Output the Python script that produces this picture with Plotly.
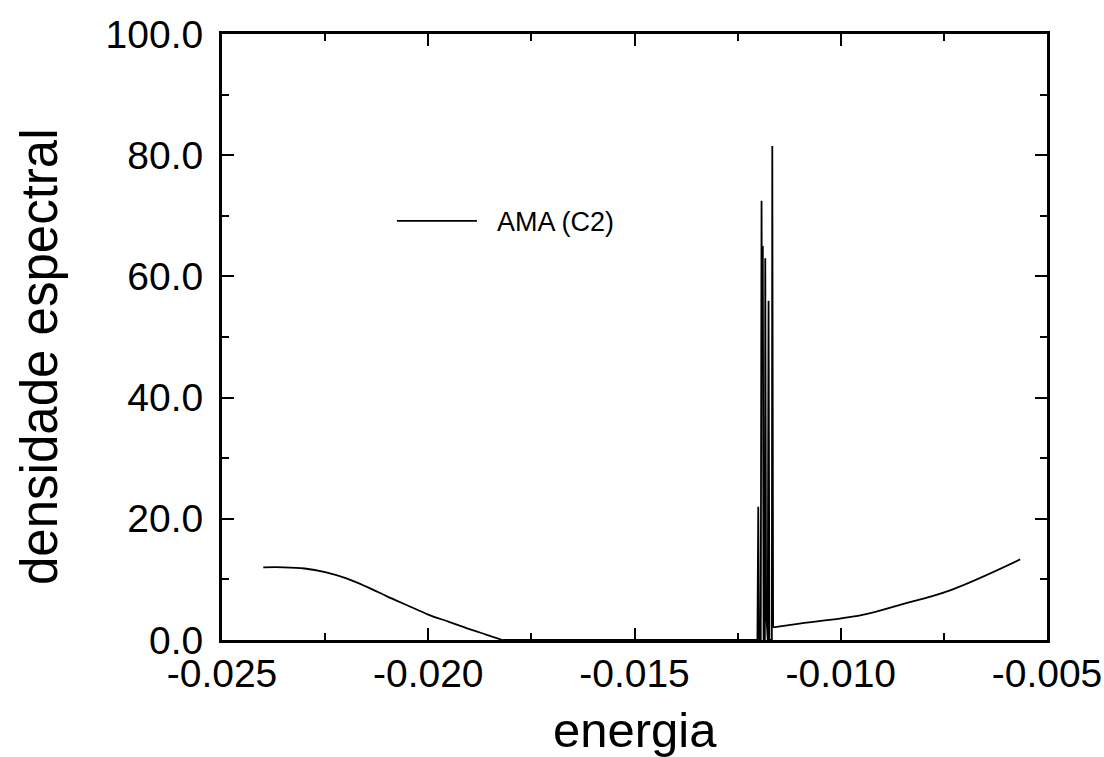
import plotly.graph_objects as go

# Left band
left_e = [-0.0240, -0.0235, -0.0230, -0.0225, -0.0220, -0.0215, -0.0210, -0.0205,
          -0.0200, -0.0195, -0.0190, -0.0186, -0.0182]
left_d = [12.0, 12.0, 11.8, 11.2, 10.2, 8.8, 7.2, 5.7, 4.2, 3.0, 1.8, 0.9, 0.0]

# Gap and spikes
mid_e = [-0.0182, -0.0170, -0.0150, -0.0130, -0.01202, -0.01200, -0.01198, -0.01194,
         -0.01192, -0.01191, -0.01189, -0.01187, -0.01184, -0.01183, -0.01181,
         -0.01177, -0.01175, -0.01173, -0.01167, -0.01166, -0.01164]
mid_d = [0.0, 0.0, 0.0, 0.0, 0.0, 22.0, 0.0, 0.0,
         72.5, 49.0, 65.0, 0.0, 0.0, 63.0, 5.0,
         0.0, 56.0, 0.0, 0.0, 81.5, 2.1]

# Right band
right_e = [-0.01164, -0.0110, -0.0095, -0.00856, -0.00735, -0.00565]
right_d = [2.1, 2.7, 4.1, 5.8, 8.2, 13.3]

x_ticks = [-0.025, -0.020, -0.015, -0.010, -0.005]
x_labels = ["-0.025", "-0.020", "-0.015", "-0.010", "-0.005"]
y_ticks = [0, 20, 40, 60, 80, 100]
y_labels = ["0.0", "20.0", "40.0", "60.0", "80.0", "100.0"]

FONT = "Liberation Sans, Arial, sans-serif"
LINE = dict(color="black", width=1.8)

fig = go.Figure()
fig.add_trace(go.Scatter(x=mid_e, y=mid_d, mode="lines", name="\u00a0\u00a0AMA (C2)",
                         legendgroup="a", line=LINE))
fig.add_trace(go.Scatter(x=left_e, y=left_d, mode="lines", legendgroup="a", showlegend=False,
                         line=dict(LINE, shape="spline", smoothing=1.0)))
fig.add_trace(go.Scatter(x=right_e, y=right_d, mode="lines", legendgroup="a", showlegend=False,
                         line=dict(LINE, shape="spline", smoothing=1.0)))

fig.update_layout(
    width=1104, height=757,
    margin=dict(l=222, r=57, t=34, b=117, autoexpand=False),
    paper_bgcolor="white", plot_bgcolor="white",
    font=dict(family=FONT, color="black"),
    showlegend=True,
    legend=dict(x=0.206, y=0.691, xanchor="left", yanchor="middle",
                font=dict(size=27, family=FONT), bgcolor="rgba(0,0,0,0)",
                itemwidth=80),
    annotations=[
        dict(text="energia", xref="paper", yref="paper", x=0.5, y=-0.10,
             xanchor="center", yanchor="top", showarrow=False,
             font=dict(size=49, family=FONT)),
        dict(text="densidade espectral", xref="paper", yref="paper", x=-0.2206, y=0.467,
             xanchor="center", yanchor="middle", textangle=-90, showarrow=False,
             font=dict(size=51, family=FONT)),
    ],
)
fig.update_xaxes(
    range=[-0.025, -0.005], tickvals=x_ticks, ticktext=x_labels, automargin=False,
    ticks="inside", ticklen=12, tickwidth=2, tickcolor="black",
    showline=True, linecolor="black", linewidth=3, mirror="ticks",
    showgrid=False, zeroline=False,
    tickfont=dict(size=39, family=FONT), ticklabelstandoff=-3,
    minor=dict(dtick=0.0025, tick0=-0.025, ticks="inside", ticklen=7, tickwidth=2, tickcolor="black"),
)
fig.update_yaxes(
    range=[0, 100], tickvals=y_ticks, ticktext=y_labels, automargin=False,
    ticks="inside", ticklen=12, tickwidth=2, tickcolor="black",
    showline=True, linecolor="black", linewidth=3, mirror="ticks",
    showgrid=False, zeroline=False,
    tickfont=dict(size=39, family=FONT), ticklabelstandoff=8,
    minor=dict(dtick=10, tick0=0, ticks="inside", ticklen=7, tickwidth=2, tickcolor="black"),
)

fig.write_html("out.html", config={"displayModeBar": False},
               post_script="document.body.style.margin='0';")
